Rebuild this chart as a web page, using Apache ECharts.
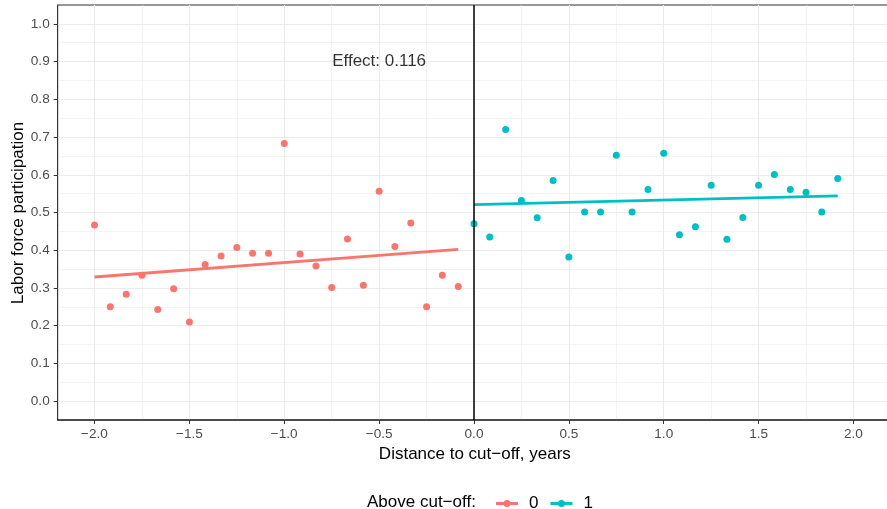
<!DOCTYPE html>
<html><head><meta charset="utf-8">
<script src="https://cdn.jsdelivr.net/npm/echarts@6/dist/echarts.min.js"></script>
<style>html,body{margin:0;padding:0;background:#fff}#c{width:887px;height:509px}</style>
</head><body><div id="c"></div>
<script>
// ---- data ----
const belowX = [-2.000,-1.917,-1.833,-1.750,-1.667,-1.583,-1.500,-1.417,-1.333,-1.250,-1.167,-1.083,-1.000,-0.917,-0.833,-0.750,-0.667,-0.583,-0.500,-0.417,-0.333,-0.250,-0.167,-0.083];
const belowY = [0.467,0.250,0.283,0.334,0.243,0.298,0.210,0.362,0.385,0.407,0.392,0.392,0.683,0.390,0.358,0.301,0.430,0.307,0.556,0.410,0.472,0.250,0.334,0.304];
const aboveX = [0.000,0.083,0.167,0.250,0.333,0.417,0.500,0.583,0.667,0.750,0.833,0.917,1.000,1.083,1.167,1.250,1.333,1.417,1.500,1.583,1.667,1.750,1.833,1.917];
const aboveY = [0.470,0.435,0.720,0.532,0.486,0.585,0.382,0.501,0.501,0.652,0.501,0.561,0.657,0.441,0.462,0.572,0.429,0.487,0.572,0.601,0.561,0.554,0.501,0.590];
const belowFitX = [-2.000,-0.083];
const belowFitY = [0.329,0.402];
const aboveFitX = [0.000,1.917];
const aboveFitY = [0.521,0.544];
const xTicks = [-2.0,-1.5,-1.0,-0.5,0.0,0.5,1.0,1.5,2.0];
const xMinor = [-1.75,-1.25,-0.75,-0.25,0.25,0.75,1.25,1.75];
const yTicks = [0.0,0.1,0.2,0.3,0.4,0.5,0.6,0.7,0.8,0.9,1.0];
const yMinor = [0.05,0.15,0.25,0.35,0.45,0.55,0.65,0.75,0.85,0.95];
const cutoff = [0];
const groups = ['0','1'];
const annotation = {x: -0.5, y: 0.9, text: 'Effect: 0.116'};

const FONT = "'Liberation Sans', Arial, Helvetica, sans-serif";
const RED = '#F8766D', CYAN = '#00BFC4';
const fmt = v => (v < 0 ? '\u2212' : '') + Math.abs(v).toFixed(1);
const zip = (a, b) => a.map((v, i) => [v, b[i]]);
const icon = 'path://M0,2L8,2L8,5L0,5Z M14,2L22,2L22,5L14,5Z M14.5,3.5A3.5,3.5 0 1 1 7.5,3.5A3.5,3.5 0 1 1 14.5,3.5Z';

const gridLines = [].concat(
  xMinor.map(v => ({xAxis: v, lineStyle: {width: 0.6}})),
  yMinor.map(v => ({yAxis: v, lineStyle: {width: 0.6}})),
  xTicks.map(v => ({xAxis: v, lineStyle: {width: 1.1}})),
  yTicks.map(v => ({yAxis: v, lineStyle: {width: 1.1}}))
);

const chart = echarts.init(document.getElementById('c'), null, {renderer: 'canvas'});
chart.setOption({
  animation: false,
  textStyle: {fontFamily: FONT},
  grid: {left: 57.7, right: -5, top: 5, bottom: 89, show: true, borderColor: '#333333', borderWidth: 1, containLabel: false, outerBoundsMode: 'none'},
  xAxis: {
    type: 'value', min: -2.194, max: 2.203,
    name: 'Distance to cut\u2212off, years', nameLocation: 'middle', nameGap: 25,
    nameTextStyle: {fontSize: 17, color: '#000', fontFamily: FONT},
    axisLine: {show: true, onZero: false, lineStyle: {color: '#333333', width: 1.6}},
    axisTick: {show: true, customValues: xTicks, length: 4, lineStyle: {color: '#333333'}},
    axisLabel: {customValues: xTicks, formatter: fmt, fontSize: 13.6, color: '#4D4D4D', margin: 7, fontFamily: FONT},
    splitLine: {show: false}
  },
  yAxis: {
    type: 'value', min: -0.05, max: 1.05,
    axisLine: {show: true, onZero: false, lineStyle: {color: '#333333', width: 1}},
    axisTick: {show: true, customValues: yTicks, length: 4, lineStyle: {color: '#333333'}},
    axisLabel: {customValues: yTicks, formatter: v => v.toFixed(1), fontSize: 13.6, color: '#4D4D4D', margin: 8, fontFamily: FONT},
    splitLine: {show: false}
  },
  legend: {
    left: 491, top: 490, itemWidth: 22, itemHeight: 7, itemGap: 12,
    textStyle: {fontSize: 17, color: '#000', padding: [0, 0, 0, 6], fontFamily: FONT},
    data: groups.map(g => ({name: g, icon: icon}))
  },
  graphic: [{
    type: 'text', x: 367, y: 502,
    style: {text: 'Above cut\u2212off:', fontSize: 17, fill: '#000', verticalAlign: 'middle', fontFamily: FONT}
  }, {
    type: 'text', x: 18, y: 213, rotation: Math.PI / 2,
    style: {text: 'Labor force participation', fontSize: 17, fill: '#000', align: 'center', verticalAlign: 'middle', fontFamily: FONT}
  }],
  series: [
    {
      type: 'line', name: '_grid', data: [], silent: true, z: 0,
      markLine: {silent: true, z: 0, symbol: ['none', 'none'], label: {show: false}, animation: false,
        lineStyle: {color: '#EBEBEB', type: 'solid'}, data: gridLines, emphasis: {disabled: true}}
    },
    {type: 'scatter', name: groups[0], data: zip(belowX, belowY), symbol: 'circle', symbolSize: 7, itemStyle: {color: RED, opacity: 1}, z: 3, silent: true},
    {type: 'scatter', name: groups[1], data: zip(aboveX, aboveY), symbol: 'circle', symbolSize: 7, itemStyle: {color: CYAN, opacity: 1}, z: 3, silent: true},
    {type: 'line', name: groups[0], data: zip(belowFitX, belowFitY), showSymbol: false, symbol: 'none', lineStyle: {color: RED, width: 2.8}, itemStyle: {color: RED}, z: 4, silent: true},
    {type: 'line', name: groups[1], data: zip(aboveFitX, aboveFitY), showSymbol: false, symbol: 'none', lineStyle: {color: CYAN, width: 2.8}, itemStyle: {color: CYAN}, z: 4, silent: true},
    {
      type: 'line', name: '_cut', data: [], silent: true, z: 6,
      markLine: {silent: true, z: 6, symbol: ['none', 'none'], label: {show: false}, animation: false,
        lineStyle: {color: '#000', type: 'solid', width: 1.5}, data: cutoff.map(v => ({xAxis: v})), emphasis: {disabled: true}}
    },
    {
      type: 'scatter', name: '_ann', data: [[annotation.x, annotation.y]], symbolSize: 1,
      itemStyle: {color: 'rgba(0,0,0,0)'}, silent: true, z: 7,
      label: {show: true, position: 'inside', formatter: annotation.text, fontSize: 17, color: '#000', fontFamily: FONT}
    }
  ]
});
</script></body></html>
